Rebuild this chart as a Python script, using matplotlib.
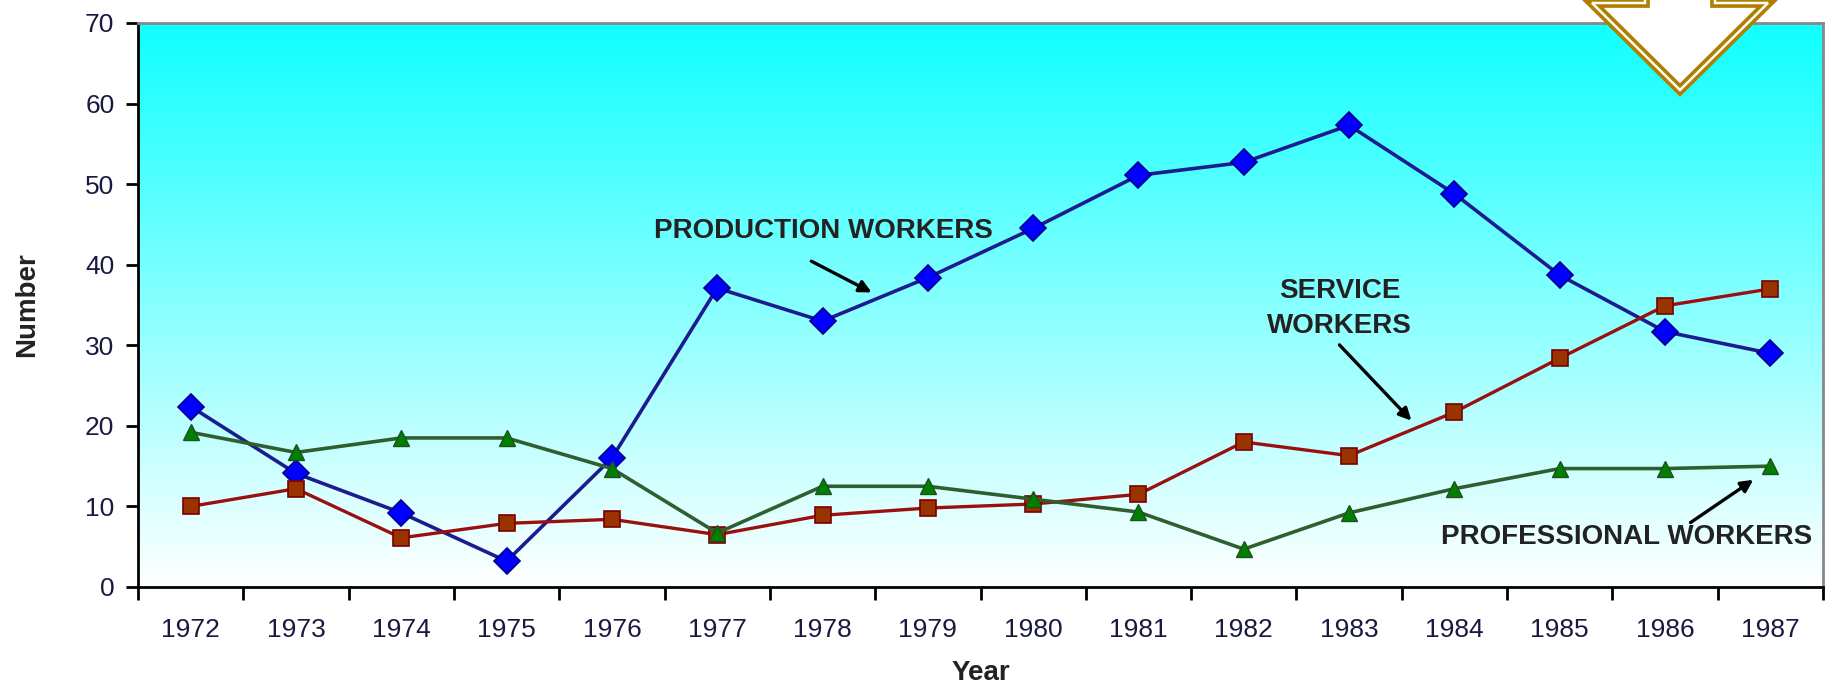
"""
Workers by occupation, 1972-1987: line chart with gradient background.
"""

import numpy as np
import matplotlib
matplotlib.use("Agg")
import matplotlib.pyplot as plt
from matplotlib.patches import Polygon

plt.rcParams['font.family'] = ['Liberation Sans', 'DejaVu Sans']

years = ["1972", "1973", "1974", "1975", "1976", "1977", "1978", "1979",
         "1980", "1981", "1982", "1983", "1984", "1985", "1986", "1987"]

production = [22.4, 14.1, 9.2, 3.2, 16.0, 37.1, 33.0, 38.4,
              44.5, 51.1, 52.7, 57.3, 48.8, 38.7, 31.7, 29.0]
service = [10.0, 12.2, 6.1, 7.9, 8.4, 6.5, 8.9, 9.8,
           10.3, 11.5, 18.0, 16.3, 21.7, 28.4, 34.9, 37.0]
professional = [19.2, 16.7, 18.5, 18.5, 14.7, 6.7, 12.5, 12.5,
                10.9, 9.3, 4.7, 9.2, 12.2, 14.7, 14.7, 15.0]

y_ticks = [0, 10, 20, 30, 40, 50, 60, 70]

W, H = 1838, 687
fig = plt.figure(figsize=(W / 100, H / 100), dpi=100)
ax = fig.add_axes([138 / W, 1 - 587 / H, (1823 - 138) / W, (587 - 23) / H])

x = np.arange(len(years))

# gradient background: white at bottom fading to cyan at top
grad = np.linspace(0, 1, 256).reshape(-1, 1)
rgb = np.ones((256, 1, 3))
rgb[..., 0] = 1.0 - 0.94 * grad
ax.imshow(rgb, extent=(-0.5, len(years) - 0.5, 0, 70), origin='lower',
          aspect='auto', zorder=0, interpolation='bilinear')
ax.set_xlim(-0.5, len(years) - 0.5)
ax.set_ylim(0, 70)

ax.plot(x, production, color='#1c1c90', lw=2.6, marker='D', ms=13,
        mfc='#0000ff', mec='#00008b', mew=1.2, zorder=3)
ax.plot(x, service, color='#9a1010', lw=2.4, marker='s', ms=11,
        mfc='#993300', mec='#7a0000', mew=1.2, zorder=3)
ax.plot(x, professional, color='#2f5f2f', lw=2.6, marker='^', ms=12,
        mfc='#008000', mec='#1f4f1f', mew=1.0, zorder=3)

txt = dict(fontsize=20, fontweight='bold', color='#222222', ha='center', va='center')
arr = dict(arrowstyle='-|>', color='black', lw=2.4, mutation_scale=18)
ax.text(6.01, 44.2, "PRODUCTION WORKERS", **txt)
ax.annotate("", xy=(6.49, 36.4), xytext=(5.87, 40.6), arrowprops=arr)
ax.text(10.91, 34.6, "SERVICE\nWORKERS", linespacing=1.45, **txt)
ax.annotate("", xy=(11.61, 20.4), xytext=(10.89, 30.3), arrowprops=arr)
ax.text(13.64, 6.2, "PROFESSIONAL WORKERS", **txt)
ax.annotate("", xy=(14.86, 13.5), xytext=(14.22, 7.8), arrowprops=arr)

ax.set_xticks(x)
ax.set_xticklabels(years, fontsize=19, color='#1a1a40')
ax.set_xticks(np.arange(-0.5, len(years), 1), minor=True)
ax.tick_params(axis='x', which='major', length=0, pad=22)
ax.tick_params(axis='x', which='minor', length=9, width=2, direction='out')
ax.set_yticks(y_ticks)
ax.set_yticklabels([str(v) for v in y_ticks], fontsize=19, color='#1a1a40')
ax.tick_params(axis='y', length=9, width=2, direction='out', pad=8)

ax.set_xlabel("Year", fontsize=20, fontweight='bold', color='#222222', labelpad=13)
ax.set_ylabel("Number", fontsize=20, fontweight='bold', color='#222222', labelpad=32)

for side in ('left', 'bottom'):
    ax.spines[side].set_linewidth(2)
    ax.spines[side].set_color('black')
for side in ('top', 'right'):
    ax.spines[side].set_linewidth(2)
    ax.spines[side].set_color('#888888')

# decorative down arrow at top right (figure pixel coords, y from top)
pts = [(1645, -10), (1645, 3), (1592, 3), (1680, 90), (1768, 3), (1715, 3), (1715, -10)]
pts = [(px / W, 1 - py / H) for px, py in pts]
fig.patches.append(Polygon(pts, closed=True, transform=fig.transFigure,
                           facecolor='white', edgecolor='#b07f00', lw=7, zorder=10))
fig.patches.append(Polygon(pts, closed=True, transform=fig.transFigure,
                           facecolor='none', edgecolor='white', lw=1.8, zorder=11))

fig.savefig("out.png", dpi=100)
